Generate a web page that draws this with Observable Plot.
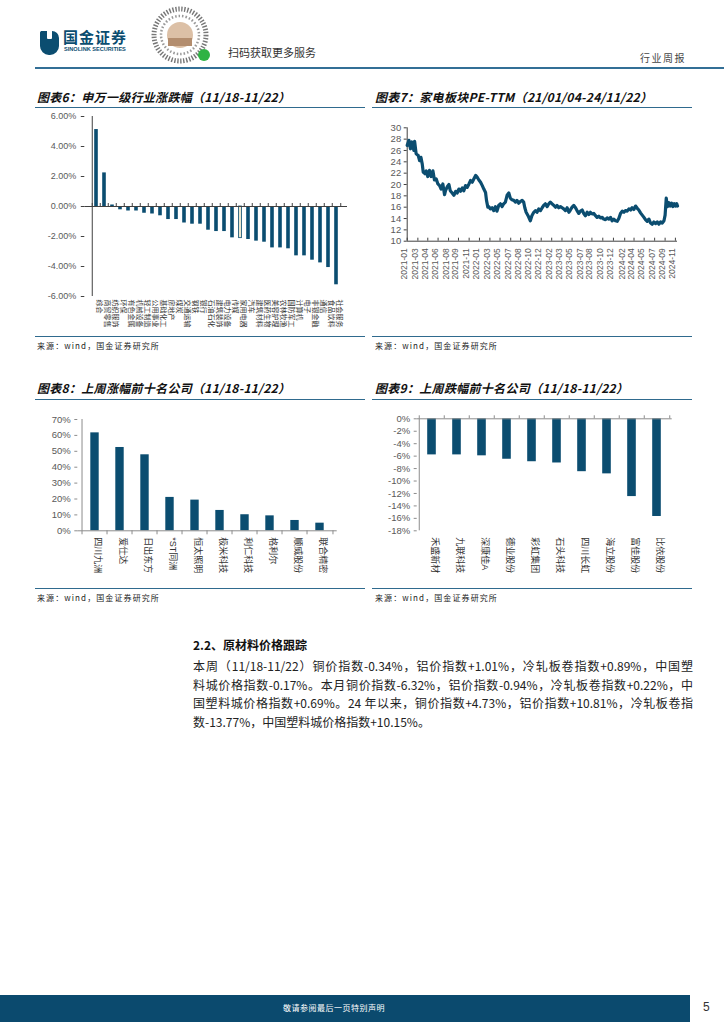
<!DOCTYPE html>
<html><head><meta charset="utf-8">
<script src="https://cdn.jsdelivr.net/npm/d3@7"></script>
<script src="https://cdn.jsdelivr.net/npm/@observablehq/plot@0.6"></script>
<style>
body{margin:0;background:#fff;}
#page{position:relative;width:724px;height:1024px;overflow:hidden;background:#fff;font-family:"Noto Sans CJK SC","Liberation Sans",sans-serif;}
.abs{position:absolute;}
.title{position:absolute;font-size:12px;line-height:14px;font-weight:700;font-style:italic;color:#111;white-space:nowrap;letter-spacing:0.3px;}
.rule{position:absolute;height:1.3px;background:#2f6a8e;}
.src{position:absolute;font-size:8px;line-height:10px;color:#222;letter-spacing:1.1px;white-space:nowrap;}
.para{position:absolute;left:193px;width:500px;font-size:12px;line-height:14px;color:#222;white-space:nowrap;}
.just{text-align:justify;text-align-last:justify;white-space:normal;}
</style></head>
<body><div id="page">
<!-- header -->
<svg class="abs" style="left:38px;top:28px" width="110" height="28">
  <path d="M3 3 h11 a7 7 0 0 1 7 7 v8 a9 9 0 0 1 -9 9 h-1 a9 9 0 0 1 -9 -9 v-12 a3 3 0 0 1 1 -3z" fill="#0b4d70"/>
  <rect x="9" y="2" width="5" height="9" rx="1" fill="#fff"/>
</svg>
<div class="abs" style="left:63px;top:28px;font-size:15px;line-height:18px;font-weight:700;color:#0b4d70;letter-spacing:1px;">国金证券</div>
<div class="abs" style="left:64px;top:46px;font-size:5.6px;line-height:7px;font-weight:700;color:#0b4d70;font-family:'Liberation Sans',sans-serif;">SINOLINK SECURITIES</div>
<svg class="abs" style="left:150px;top:5px" width="62" height="62">
  <circle cx="30" cy="30" r="26" fill="none" stroke="#777" stroke-width="5" stroke-dasharray="1.4 1.6"/>
  <circle cx="30" cy="30" r="19" fill="none" stroke="#999" stroke-width="2.5" stroke-dasharray="1.5 2"/>
  <circle cx="30" cy="30" r="13" fill="#dcc0a6"/>
  <rect x="18" y="33" width="24" height="8" fill="#b38d6e"/>
  <circle cx="54" cy="50" r="6" fill="#2fb344"/>
</svg>
<div class="abs" style="left:228px;top:46px;font-size:11px;line-height:13px;color:#333;">扫码获取更多服务</div>
<div class="abs" style="left:640px;top:52px;font-size:10px;line-height:12px;color:#444;letter-spacing:1.5px;">行业周报</div>
<div class="abs" style="left:35px;top:67px;width:689px;height:1.6px;background:#336f96;"></div>

<!-- titles and rules -->
<div class="title" style="left:37px;top:90px;">图表6：申万一级行业涨跌幅（11/18-11/22）</div>
<div class="title" style="left:375px;top:90px;">图表7：家电板块PE-TTM（21/01/04-24/11/22）</div>
<div class="rule" style="left:35px;top:107px;width:330px;"></div>
<div class="rule" style="left:372px;top:107px;width:320px;"></div>
<div class="rule" style="left:35px;top:335.5px;width:330px;"></div>
<div class="rule" style="left:372px;top:335.5px;width:320px;"></div>
<div class="src" style="left:37px;top:341px;">来源：wind，国金证券研究所</div>
<div class="src" style="left:375px;top:341px;">来源：wind，国金证券研究所</div>

<div class="title" style="left:37px;top:381px;">图表8：上周涨幅前十名公司（11/18-11/22）</div>
<div class="title" style="left:375px;top:381px;">图表9：上周跌幅前十名公司（11/18-11/22）</div>
<div class="rule" style="left:35px;top:398.5px;width:330px;"></div>
<div class="rule" style="left:372px;top:398.5px;width:320px;"></div>
<div class="rule" style="left:35px;top:588px;width:330px;"></div>
<div class="rule" style="left:372px;top:588px;width:320px;"></div>
<div class="src" style="left:37px;top:593px;">来源：wind，国金证券研究所</div>
<div class="src" style="left:375px;top:593px;">来源：wind，国金证券研究所</div>

<div id="c6" class="abs" style="left:35px;top:108px;"></div>
<div id="c7" class="abs" style="left:372px;top:108px;"></div>
<div id="c8" class="abs" style="left:35px;top:400px;"></div>
<div id="c9" class="abs" style="left:372px;top:400px;"></div>

<!-- text -->
<div class="abs" style="left:193px;top:637px;font-size:12px;line-height:16px;font-weight:700;color:#111;">2.2、原材料价格跟踪</div>
<div class="para just" style="top:659px;">本周（11/18-11/22）铜价指数-0.34%，铝价指数+1.01%，冷轧板卷指数+0.89%，中国塑</div>
<div class="para just" style="top:677.5px;">料城价格指数-0.17%。本月铜价指数-6.32%，铝价指数-0.94%，冷轧板卷指数+0.22%，中</div>
<div class="para just" style="top:696px;">国塑料城价格指数+0.69%。24 年以来，铜价指数+4.73%，铝价指数+10.81%，冷轧板卷指</div>
<div class="para" style="top:714.5px;">数-13.77%，中国塑料城价格指数+10.15%。</div>

<!-- footer -->
<div class="abs" style="left:0;top:995px;width:690px;height:27px;background:#0b4a6e;"></div>
<div class="abs" style="left:283px;top:1003px;font-size:8px;line-height:10px;color:#fff;letter-spacing:0.5px;">敬请参阅最后一页特别声明</div>
<div class="abs" style="left:703px;top:1000px;font-size:12px;line-height:14px;color:#333;font-family:'Liberation Sans',sans-serif;">5</div>
</div>
<script>
// ===== Data =====
const industries6 = ["综合","商贸零售","纺织服饰","环保","有色金属","机械设备","轻工制造","公用事业","基础化工","房地产","煤炭","交通运输","钢铁","银行","石油石化","建筑装饰","电力设备","传媒","家用电器","汽车","建筑材料","医药生物","美容护理","农林牧渔","国防军工","计算机","电子","非银金融","通信","食品饮料","社会服务"];
const change6 = [5.13,2.24,0.10,-0.22,-0.30,-0.30,-0.45,-0.50,-0.62,-0.87,-0.87,-1.10,-1.18,-1.18,-1.58,-1.67,-1.67,-2.09,-2.11,-2.20,-2.31,-2.38,-2.76,-2.76,-2.82,-3.29,-3.29,-3.58,-3.76,-4.07,-5.22];
const yTicks6 = [-6,-4,-2,0,2,4,6];
const highlight6 = "家用电器";

const peDates = ["2021-01-04","2021-01-13","2021-01-21","2021-01-29","2021-02-08","2021-02-12","2021-02-20","2021-03-03","2021-03-10","2021-03-17","2021-03-24","2021-03-29","2021-04-07","2021-04-14","2021-04-22","2021-05-01","2021-05-10","2021-05-19","2021-05-27","2021-06-05","2021-06-14","2021-06-23","2021-07-01","2021-07-10","2021-07-19","2021-07-24","2021-08-02","2021-08-11","2021-08-18","2021-08-28","2021-09-06","2021-09-15","2021-09-23","2021-10-02","2021-10-11","2021-10-20","2021-10-28","2021-11-06","2021-11-15","2021-11-24","2021-12-02","2021-12-11","2021-12-20","2021-12-29","2022-01-06","2022-01-15","2022-01-24","2022-02-02","2022-02-10","2022-02-19","2022-02-24","2022-03-03","2022-03-08","2022-03-16","2022-03-25","2022-04-03","2022-04-12","2022-04-20","2022-04-29","2022-05-08","2022-05-17","2022-05-25","2022-06-03","2022-06-12","2022-06-21","2022-06-29","2022-07-08","2022-07-17","2022-07-26","2022-08-03","2022-08-12","2022-08-21","2022-08-30","2022-09-07","2022-09-13","2022-09-20","2022-09-30","2022-10-12","2022-10-20","2022-10-30","2022-11-08","2022-11-16","2022-11-25","2022-12-04","2022-12-13","2022-12-21","2022-12-30","2023-01-08","2023-01-17","2023-01-25","2023-02-03","2023-02-12","2023-02-21","2023-03-01","2023-03-10","2023-03-19","2023-03-28","2023-04-05","2023-04-14","2023-04-23","2023-05-02","2023-05-10","2023-05-19","2023-05-28","2023-06-06","2023-06-14","2023-06-23","2023-07-02","2023-07-11","2023-07-19","2023-07-28","2023-08-06","2023-08-15","2023-08-23","2023-09-01","2023-09-10","2023-09-19","2023-09-27","2023-10-06","2023-10-15","2023-10-24","2023-11-01","2023-11-10","2023-11-19","2023-11-28","2023-12-07","2023-12-15","2023-12-24","2024-01-02","2024-01-11","2024-01-19","2024-01-28","2024-02-06","2024-02-15","2024-02-23","2024-03-03","2024-03-12","2024-03-21","2024-03-29","2024-04-07","2024-04-16","2024-04-25","2024-05-03","2024-05-12","2024-05-21","2024-05-30","2024-06-07","2024-06-16","2024-06-25","2024-07-04","2024-07-12","2024-07-21","2024-07-30","2024-08-08","2024-08-16","2024-08-25","2024-09-03","2024-09-12","2024-09-18","2024-09-24","2024-09-30","2024-10-08","2024-10-15","2024-10-22","2024-10-29","2024-11-05","2024-11-12","2024-11-18","2024-11-22"];
const peValues = [26.9,27.8,26.3,27.5,26.0,27.6,25.4,25.1,24.2,24.8,23.6,22.2,21.9,22.4,21.4,22.5,21.4,22.4,20.8,21.0,20.1,19.8,19.2,20.1,18.2,18.9,19.6,20.0,18.9,18.5,18.1,18.8,18.5,19.2,18.8,19.4,18.9,19.8,19.5,20.1,20.7,20.4,21.0,21.6,21.3,20.8,20.4,19.8,19.2,18.6,17.2,16.0,16.1,15.7,15.9,15.4,16.1,15.3,16.3,16.6,16.1,16.6,16.9,18.1,18.5,17.6,17.3,17.2,16.9,17.2,16.7,17.0,17.2,16.9,15.9,15.1,14.5,13.6,14.5,15.1,15.4,15.1,15.7,15.4,15.9,16.3,16.6,16.1,16.6,16.9,16.6,16.3,16.0,16.3,15.9,16.1,15.9,15.7,15.4,15.9,15.1,15.5,16.0,16.3,15.9,15.4,14.9,15.3,15.5,14.9,14.5,15.1,14.7,15.1,14.8,14.9,14.5,14.2,14.4,14.1,14.2,13.9,13.8,14.1,13.9,14.2,13.6,13.9,13.6,13.5,14.0,14.9,15.3,15.1,15.4,15.3,15.7,15.5,15.9,15.6,16.2,15.8,15.5,15.0,14.6,14.2,13.8,13.5,13.9,13.2,13.0,13.4,13.1,13.4,13.0,13.4,13.2,13.6,14.6,17.6,16.1,16.8,16.2,16.7,16.1,16.6,16.2,16.6,16.2];
const peTickDates = ["2021-01-04","2021-03-01","2021-04-22","2021-06-15","2021-08-09","2021-09-30","2021-11-25","2022-01-18","2022-03-14","2022-05-06","2022-07-01","2022-08-22","2022-10-14","2022-12-08","2023-02-01","2023-03-27","2023-05-19","2023-07-13","2023-08-31","2023-10-27","2023-12-22","2024-02-19","2024-04-08","2024-05-31","2024-07-25","2024-09-18","2024-11-11"];
const yTicks7 = [10,12,14,16,18,20,22,24,26,28,30];

const gainers = ["四川九洲","爱仕达","日出东方","*ST同洲","恒太照明","极米科技","利仁科技","格利尔","顺威股份","联合精密"];
const gainPct = [61.6,52.4,47.8,21.0,19.3,12.8,10.1,9.4,6.5,4.8];
const yTicks8 = [0,10,20,30,40,50,60,70];

const losers = ["禾盛新材","九联科技","深康佳A","德业股份","彩虹集团","石头科技","四川长虹","海立股份","富佳股份","比依股份"];
const lossPct = [-5.8,-5.8,-5.95,-6.5,-6.9,-7.1,-8.5,-8.85,-12.5,-15.7];
const yTicks9 = [0,-2,-4,-6,-8,-10,-12,-14,-16,-18];

// ===== Styles =====
const BLUE = "#0b4d70";
const DARK = "#404040";
const GRAY = "#8c8c8c";
const FONT = "'Liberation Sans','Noto Sans CJK SC',sans-serif";
const baseStyle = {fontFamily: FONT, fontSize: "9px", color: "#595959", background: "transparent", overflow: "visible"};

// ===== Chart 6 =====
{
  const W = 330, H = 228, ml = 49.3, mr = 18, mt = 8, mb = 40;
  const step = (W - ml - mr) / industries6.length;
  const pxY = 12 / (H - mt - mb);
  const data = industries6.map((n, i) => ({n, v: change6[i]}));
  const chart = Plot.plot({
    width: W, height: H, marginLeft: ml, marginRight: mr, marginTop: mt, marginBottom: mb,
    style: baseStyle,
    x: {type: "band", domain: industries6, padding: 0, axis: null},
    y: {domain: [-6, 6], axis: null},
    marks: [
      Plot.barY(data.filter(d => d.n !== highlight6), {x: "n", y: "v", fill: BLUE, insetLeft: 2.2, insetRight: 2.2}),
      Plot.barY(data.filter(d => d.n === highlight6), {x: "n", y: "v", fill: "#eee8cf", stroke: BLUE, strokeWidth: 0.8, insetLeft: 2.6, insetRight: 2.6}),
      Plot.ruleY([0], {stroke: DARK, strokeWidth: 1}),
      Plot.ruleX(industries6, {x: d => d, y1: 0, y2: 3 * pxY, dx: -step / 2, stroke: DARK}),
      Plot.ruleX([industries6[industries6.length - 1]], {x: d => d, y1: 0, y2: 3 * pxY, dx: step / 2, stroke: DARK}),
      Plot.ruleX([industries6[0]], {x: d => d, y1: -6, y2: 6, dx: -step / 2, stroke: DARK}),
      Plot.axisY({ticks: yTicks6, tickFormat: d => d.toFixed(2) + "%", tickSize: 3.5, tickPadding: 5, stroke: DARK, fontSize: 9, label: null}),
      Plot.text(industries6, {x: d => d, frameAnchor: "bottom", dy: 3, rotate: 90, textAnchor: "start", fontSize: 7, fill: "#333"})
    ]
  });
  document.getElementById("c6").appendChild(chart);
}

// ===== Chart 7 =====
{
  const W = 320, H = 228, ml = 34.7, mr = 15, mt = 19.3, mb = 95.3;
  const pxY = 20 / (H - mt - mb);
  const data = peDates.map((d, i) => ({date: new Date(d), v: peValues[i]}));
  const ticks = peTickDates.map(d => new Date(d));
  const x0 = new Date(peDates[0]), x1 = new Date(peDates[peDates.length - 1]);
  const fmt = d3.utcFormat("%Y-%m");
  const chart = Plot.plot({
    width: W, height: H, marginLeft: ml, marginRight: mr, marginTop: mt, marginBottom: mb,
    style: baseStyle,
    x: {type: "utc", domain: [x0, x1], axis: null},
    y: {domain: [10, 30], axis: null},
    marks: [
      Plot.ruleY([10], {stroke: DARK}),
      Plot.ruleX([x0], {y1: 10, y2: 30, stroke: DARK}),
      Plot.ruleX(ticks, {x: d => d, y1: 10, y2: 10 + 3 * pxY, stroke: DARK}),
      Plot.lineY(data, {x: "date", y: "v", stroke: BLUE, strokeWidth: 3.2, strokeLinejoin: "round"}),
      Plot.axisY({ticks: yTicks7, tickSize: 3, tickPadding: 3, stroke: DARK, fontSize: 9.5, label: null}),
      Plot.text(ticks, {x: d => d, text: d => fmt(d), frameAnchor: "bottom", dy: 7, rotate: -90, textAnchor: "end", fontSize: 8.5, fill: "#595959"})
    ]
  });
  document.getElementById("c7").appendChild(chart);
}

// ===== Chart 8 =====
{
  const W = 330, H = 186, ml = 42.3, mr = 28.3, mt = 19, mb = 55.7;
  const step = (W - ml - mr) / gainers.length;
  const pxY = 70 / (H - mt - mb);
  const data = gainers.map((n, i) => ({n, v: gainPct[i]}));
  const chart = Plot.plot({
    width: W, height: H, marginLeft: ml, marginRight: mr, marginTop: mt, marginBottom: mb,
    style: baseStyle,
    x: {type: "band", domain: gainers, padding: 0, axis: null},
    y: {domain: [0, 70], axis: null},
    marks: [
      Plot.barY(data, {x: "n", y: "v", fill: BLUE, insetLeft: 8.3, insetRight: 8.3}),
      Plot.ruleY([0], {stroke: GRAY}),
      Plot.ruleX(gainers, {x: d => d, y1: 0, y2: -4 * pxY, dx: -step / 2, stroke: GRAY}),
      Plot.ruleX([gainers[gainers.length - 1]], {x: d => d, y1: 0, y2: -4 * pxY, dx: step / 2, stroke: GRAY}),
      Plot.ruleX([gainers[0]], {x: d => d, y1: 0, y2: 70, dx: -step / 2, stroke: GRAY}),
      Plot.axisY({ticks: yTicks8, tickFormat: d => d + "%", tickSize: 3, tickPadding: 4, stroke: GRAY, fontSize: 9.5, label: null}),
      Plot.text(gainers, {x: d => d, frameAnchor: "bottom", dy: 6.5, rotate: 90, textAnchor: "start", fontSize: 9, fill: "#333"})
    ]
  });
  document.getElementById("c8").appendChild(chart);
}

// ===== Chart 9 =====
{
  const W = 320, H = 186, ml = 44.7, mr = 20.3, mt = 18.3, mb = 55.7;
  const step = (W - ml - mr) / losers.length;
  const pxY = 18 / (H - mt - mb);
  const data = losers.map((n, i) => ({n, v: lossPct[i]}));
  const chart = Plot.plot({
    width: W, height: H, marginLeft: ml, marginRight: mr, marginTop: mt, marginBottom: mb,
    style: baseStyle,
    x: {type: "band", domain: losers, padding: 0, axis: null},
    y: {domain: [-18, 0], axis: null},
    marks: [
      Plot.barY(data, {x: "n", y: "v", fill: BLUE, insetLeft: 8.2, insetRight: 8.2}),
      Plot.ruleY([0], {stroke: GRAY}),
      Plot.ruleX(losers, {x: d => d, y1: 0, y2: 3 * pxY, dx: -step / 2, stroke: GRAY}),
      Plot.ruleX([losers[losers.length - 1]], {x: d => d, y1: 0, y2: 3 * pxY, dx: step / 2, stroke: GRAY}),
      Plot.ruleX([losers[0]], {x: d => d, y1: -18, y2: 0, dx: -step / 2, stroke: GRAY}),
      Plot.axisY({ticks: yTicks9, tickFormat: d => d + "%", tickSize: 3, tickPadding: 4, stroke: GRAY, fontSize: 9.5, label: null}),
      Plot.text(losers, {x: d => d, frameAnchor: "bottom", dy: 6.5, rotate: 90, textAnchor: "start", fontSize: 9, fill: "#333"})
    ]
  });
  document.getElementById("c9").appendChild(chart);
}
</script>
</body></html>
